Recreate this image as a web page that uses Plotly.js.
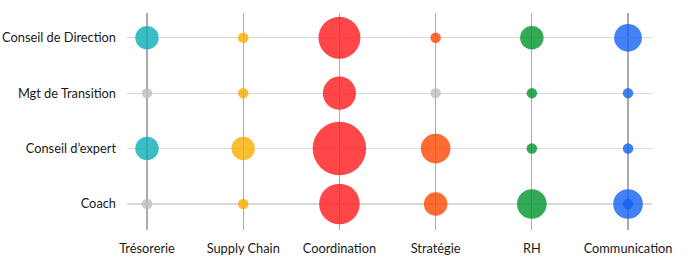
<!DOCTYPE html>
<html>
<head>
<meta charset="utf-8">
<script src="https://cdn.plot.ly/plotly-3.0.1.min.js"></script>
<style>
  html, body { margin: 0; padding: 0; background: #ffffff; }
  #chart { width: 689px; height: 274px; }
</style>
</head>
<body>
<div id="chart"></div>
<script>
// Categories
const columns = ['Trésorerie', 'Supply Chain', 'Coordination', 'Stratégie', 'RH', 'Communication'];
const rows = ['Conseil de Direction', 'Mgt de Transition', 'Conseil d\u2019expert', 'Coach'];

// Values per column, in the order of `rows` (0 = none, shown as a grey dot)
const tresorerie    = [5, 0, 5, 0];
const supplyChain   = [1, 1, 5, 1];
const coordination  = [16, 10, 26, 15];
const strategie     = [1, 0, 8, 5];
const rh            = [5, 1, 1, 8];
const communication = [7, 1, 1, 8];

// Extra overlapping point
const extraColumns = ['Communication'];
const extraRows = ['Coach'];
const extraValues = [1];

const seriesValues = [tresorerie, supplyChain, coordination, strategie, rh, communication];
const seriesColors = ['#0BAEB8', '#F9AE00', '#FF181A', '#FF4700', '#00952A', '#1363F2'];
const noneColor = '#BFBFBF';
const SIZEREF = 2 / 110;
const OPACITY = 0.8;

const traces = columns.map((col, i) => {
  const vals = seriesValues[i];
  return {
    type: 'scatter',
    mode: 'markers',
    x: rows.map(() => col),
    y: rows,
    hoverinfo: 'skip',
    showlegend: false,
    marker: {
      size: vals.map(v => (v === 0 ? 1 : v)),
      sizemode: 'area',
      sizeref: SIZEREF,
      color: vals.map(v => (v === 0 ? noneColor : seriesColors[i])),
      opacity: OPACITY,
      line: { width: 0 }
    }
  };
});

traces.push({
  type: 'scatter',
  mode: 'markers',
  x: extraColumns,
  y: extraRows,
  hoverinfo: 'skip',
  showlegend: false,
  marker: {
    size: extraValues,
    sizemode: 'area',
    sizeref: SIZEREF,
    color: extraColumns.map(c => seriesColors[columns.indexOf(c)]),
    opacity: OPACITY,
    line: { width: 0 }
  }
});

const layout = {
  width: 689,
  height: 274,
  margin: { l: 127, r: 37, t: 13, b: 44 },
  paper_bgcolor: '#ffffff',
  plot_bgcolor: '#ffffff',
  font: { family: 'Lato, "Open Sans", sans-serif', size: 12.8, color: '#1a1a1a' },
  xaxis: {
    type: 'category',
    categoryorder: 'array',
    categoryarray: columns,
    range: [-0.208, 5.249],
    showgrid: true,
    gridcolor: '#ababab',
    gridwidth: 1.2,
    zeroline: false,
    showline: false,
    ticks: '',
    ticklabelstandoff: 9,
    fixedrange: true
  },
  yaxis: {
    type: 'category',
    categoryorder: 'array',
    categoryarray: rows.slice().reverse(),
    range: [-0.47, 3.447],
    showgrid: true,
    gridcolor: '#d9d9d9',
    gridwidth: 1.2,
    zeroline: false,
    showline: false,
    ticks: '',
    ticklabelstandoff: 10,
    fixedrange: true
  }
};

Plotly.newPlot('chart', traces, layout, { displayModeBar: false, staticPlot: true });
</script>
</body>
</html>
